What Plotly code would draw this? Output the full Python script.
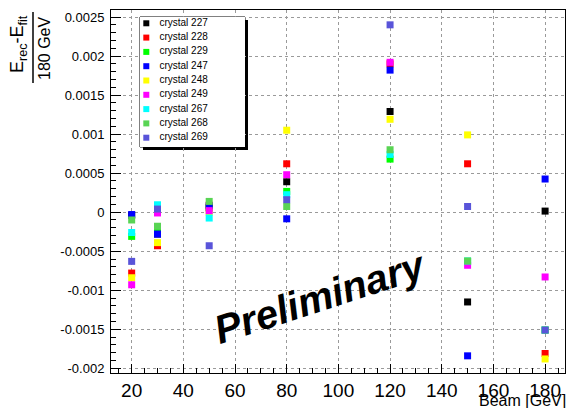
import plotly.graph_objects as go

# ---------------- data ----------------
beam = [20, 30, 50, 80, 120, 150, 180]

crystal_names = ["crystal 227", "crystal 228", "crystal 229", "crystal 247", "crystal 248",
                 "crystal 249", "crystal 267", "crystal 268", "crystal 269"]
crystal_colors = ["#000000", "#ff0000", "#00ff00", "#0000ff", "#ffff00",
                  "#ff00ff", "#00ffff", "#59d454", "#5954d9"]

c227 = [-0.00004, -0.00028, 0.00006, 0.00039, 0.00129, -0.00115, 0.000014]
c228 = [-0.00078, -0.00043, 0.00009, 0.00062, 0.00190, 0.00062, -0.00181]
c229 = [-0.00031, -0.00020, 0.00005, 0.000266, 0.00068, -0.00063, -0.00151]
c247 = [-0.00003, -0.00028, 0.00008, -0.000085, 0.00182, -0.00184, 0.000425]
c248 = [-0.00084, -0.00039, 0.00000, 0.00105, 0.00119, 0.00099, -0.00188]
c249 = [-0.00093, -0.00001, 0.00002, 0.00048, 0.00192, -0.00068, -0.00083]
c267 = [-0.00026, 0.000095, -0.000075, 0.000224, 0.00074, -0.000625, -0.00151]
c268 = [-0.00010, -0.00018, 0.000138, 0.000073, 0.00080, -0.000625, -0.00151]
c269 = [-0.00063, 0.00004, -0.00043, 0.00016, 0.00240, 0.000073, -0.00151]

series = [c227, c228, c229, c247, c248, c249, c267, c268, c269]

y_tickvals = [0.0025, 0.002, 0.0015, 0.001, 0.0005, 0, -0.0005, -0.001, -0.0015, -0.002]
y_ticktext = ["0.0025", "0.002", "0.0015", "0.001", "0.0005", "0",
              "-0.0005", "-0.001", "-0.0015", "-0.002"]
x_tickvals = [20, 40, 60, 80, 100, 120, 140, 160, 180]

FONT = "Liberation Sans, Arial, Helvetica, sans-serif"

fig = go.Figure()

for name, col, vals in zip(crystal_names, crystal_colors, series):
    fig.add_trace(go.Scatter(
        x=beam, y=vals, mode="markers", name=name, showlegend=False,
        marker=dict(symbol="square", size=7, color=col, line=dict(width=0)),
        xaxis="x", yaxis="y"))

# custom compact legend (inset axes)
legend_rows = list(range(len(crystal_names)))
fig.add_trace(go.Scatter(
    x=[0.06] * len(crystal_names), y=legend_rows, mode="markers",
    marker=dict(symbol="square", size=6, color=crystal_colors, line=dict(width=0)),
    showlegend=False, hoverinfo="skip", xaxis="x2", yaxis="y2"))
fig.add_trace(go.Scatter(
    x=[0.185] * len(crystal_names), y=legend_rows, mode="text",
    text=crystal_names, textposition="middle right",
    textfont=dict(family=FONT, size=10, color="black"),
    showlegend=False, hoverinfo="skip", xaxis="x2", yaxis="y2"))

W, H = 570, 408
ml, mr, mt, mb = 111, 5, 10, 35
pw, ph = W - ml - mr, H - mt - mb


def px_x(p):
    return (p - ml) / pw


def px_y(p):
    return (H - mb - p) / ph


fig.update_layout(
    width=W, height=H,
    margin=dict(l=ml, r=mr, t=mt, b=mb),
    paper_bgcolor="white", plot_bgcolor="white",
    font=dict(family=FONT, color="black"),
    showlegend=False,
    xaxis=dict(range=[12, 187.7], tickvals=x_tickvals, ticks="inside", ticklen=9,
               tickwidth=1, tickcolor="black", showline=True, linecolor="black",
               linewidth=1, mirror=True, showgrid=True, gridcolor="#9a9a9a",
               griddash="dot", gridwidth=1, zeroline=False,
               tickfont=dict(family=FONT, size=19, color="black"),
               minor=dict(dtick=5, ticks="inside", ticklen=5, tickcolor="black",
                          showgrid=False)),
    yaxis=dict(range=[-0.00206, 0.00259], tickvals=y_tickvals, ticktext=y_ticktext,
               ticks="inside", ticklen=10, tickwidth=1, tickcolor="black",
               showline=True, linecolor="black", linewidth=1, mirror=True,
               showgrid=True, gridcolor="#9a9a9a", griddash="dot", gridwidth=1,
               zeroline=False, tickfont=dict(family=FONT, size=13, color="black"),
               ticklabelstandoff=3,
               minor=dict(dtick=0.0001, ticks="inside", ticklen=5, tickcolor="black",
                          showgrid=False)),
    xaxis2=dict(domain=[px_x(140), px_x(245)], range=[0, 1], visible=False,
                anchor="y2", fixedrange=True),
    yaxis2=dict(domain=[px_y(147), px_y(17)], range=[8.65, -0.44], visible=False,
                anchor="x2", fixedrange=True),
)

# legend box with shadow
fig.add_shape(type="rect", xref="x2 domain", yref="y2 domain",
              x0=3 / 105, x1=1 + 3 / 105, y0=-3 / 130, y1=1 - 3 / 130,
              fillcolor="black", line=dict(width=0), layer="below")
fig.add_shape(type="rect", xref="x2 domain", yref="y2 domain",
              x0=0, x1=1, y0=0, y1=1,
              fillcolor="white", line=dict(color="black", width=1), layer="below")

# y-axis title as a fraction
fig.add_annotation(text="E<sub>rec</sub>-E<sub>fit</sub>", xref="paper", yref="paper",
                   x=px_x(19), y=px_y(44), xanchor="center", yanchor="middle",
                   textangle=-90, showarrow=False,
                   font=dict(family=FONT, size=18, color="black"))
fig.add_shape(type="line", xref="paper", yref="paper",
              x0=px_x(33), x1=px_x(33), y0=px_y(12), y1=px_y(83),
              line=dict(color="black", width=1.5))
fig.add_annotation(text="180 GeV", xref="paper", yref="paper",
                   x=px_x(45), y=px_y(49), xanchor="center", yanchor="middle",
                   textangle=-90, showarrow=False,
                   font=dict(family=FONT, size=16, color="black"))

# x-axis title
fig.add_annotation(text="Beam [GeV]", xref="paper", yref="paper",
                   x=px_x(568), y=px_y(401), xanchor="right", yanchor="middle",
                   showarrow=False, font=dict(family=FONT, size=16, color="black"))

# Preliminary stamp
fig.add_annotation(text="Preliminary", xref="paper", yref="paper",
                   x=px_x(320), y=px_y(297), xanchor="center", yanchor="middle",
                   textangle=-18, showarrow=False,
                   font=dict(family=FONT, size=40, color="black", weight="bold",
                             style="italic"))

fig.write_html("out.html",
               config={"displayModeBar": False},
               post_script="document.body.style.margin='0';document.body.style.padding='0';")
